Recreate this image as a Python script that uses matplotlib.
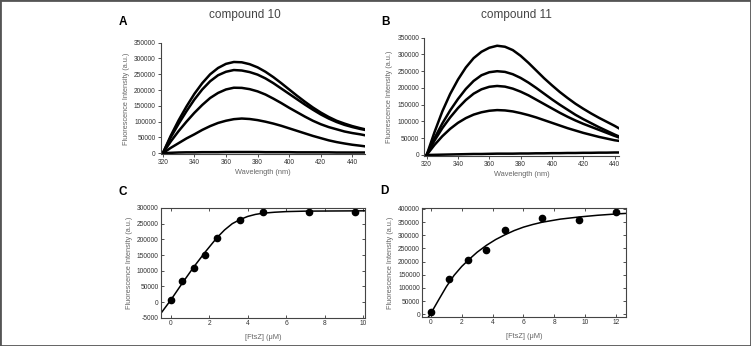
import matplotlib
matplotlib.use('Agg')
import matplotlib.pyplot as plt
from matplotlib.patches import Rectangle
import numpy as np

plt.rcParams['font.family'] = ['Liberation Sans', 'DejaVu Sans']

# panel A - compound 10 emission spectra (read every 5 nm)
wl_a = [320, 325, 330, 335, 340, 345, 350, 355, 360, 365, 370, 375, 380, 385, 390,
        395, 400, 405, 410, 415, 420, 425, 430, 435, 440, 445, 448]
a1 = [0, 55000, 104000, 148000, 188000, 222000, 250000, 270000, 283000, 289000, 288000, 282000, 272000, 258000, 241000,
      222000, 202000, 182000, 163000, 145000, 129000, 115000, 103000, 94000, 86000, 79500, 76000]
a2 = [0, 50000, 93000, 133000, 170000, 202000, 228000, 247000, 258000, 263500, 262000, 257000, 249000, 237000, 222000,
      205000, 188000, 171000, 154000, 138000, 123000, 110000, 99000, 90000, 83000, 77000, 74000]
a3 = [0, 37000, 70000, 100000, 128000, 153000, 175000, 191000, 202000, 207500, 207000, 203000, 196000, 186000, 173000,
      159000, 144000, 130000, 116000, 103000, 92000, 83000, 76000, 69000, 64000, 60000, 57000]
a4 = [0, 17000, 32000, 47000, 60000, 74000, 86000, 96000, 103000, 108000, 110000, 108500, 105000, 100000, 94000,
      87000, 79000, 71000, 63000, 55000, 48000, 41000, 35500, 31000, 27000, 24000, 22000]
a5 = [0, 1500, 2500, 3000, 3000, 3500, 3500, 3500, 4000, 4000, 4000, 4000, 4000, 3500, 3500,
      3500, 3500, 3000, 3000, 3000, 3000, 3000, 2500, 2500, 2500, 2500, 2500]

# panel B - compound 11 emission spectra
wl_b = [320, 325, 330, 335, 340, 345, 350, 355, 360, 365, 370, 375, 380, 385, 390,
        395, 400, 405, 410, 415, 420, 425, 430, 435, 440, 443]
b1 = [0, 68000, 130000, 182000, 225000, 261000, 289000, 308000, 320000, 326000, 323000, 313000, 296000, 275000, 252000,
      229000, 208000, 188000, 170000, 153000, 138000, 124000, 111000, 99000, 87000, 79000]
b2 = [0, 50000, 94000, 133000, 167000, 197000, 221000, 238000, 247000, 250000, 248000, 241000, 230000, 216000, 200000,
      183000, 166000, 150000, 135000, 120000, 107000, 95000, 83000, 72000, 61000, 55000]
b3 = [0, 43000, 80000, 112000, 140000, 164000, 183000, 196000, 203500, 206000, 204000, 198000, 189000, 178000, 165000,
      152000, 139000, 126000, 114000, 103000, 93000, 84000, 75000, 66000, 57000, 52000]
b4 = [0, 30000, 56000, 78000, 96000, 110000, 120500, 127500, 132000, 134000, 133000, 130000, 125000, 119000, 112000,
      104000, 96000, 88000, 80000, 73000, 66000, 60000, 54000, 49000, 44000, 42000]
b5 = [0, 500, 1000, 1500, 2000, 2500, 3000, 3000, 3500, 4000, 4000, 4000, 4500, 4500, 5000,
      5000, 5500, 5500, 6000, 6000, 6500, 6500, 7000, 7000, 7500, 7500]

# panel C - titration compound 10
ftsz_c = [0, 0.6, 1.2, 1.8, 2.4, 3.6, 4.8, 7.2, 9.6]
fl_c = [6500, 67000, 110000, 150000, 205000, 261000, 286000, 286000, 286000]
fit_xc = [-0.52, 0, 0.6, 1.2, 1.8, 2.4, 2.8, 3.2, 3.6, 4.0, 4.4, 4.8, 5.4, 6.0, 7.0, 8.5, 10.1]
fit_yc = [-37000, 6000, 60000, 112000, 160000, 205000, 230000, 250000, 263000, 273000, 279500, 283500, 286500,
          288500, 290000, 290500, 291000]

# panel D - titration compound 11
ftsz_d = [0, 1.2, 2.4, 3.6, 4.8, 7.2, 9.6, 12]
fl_d = [10000, 135000, 205000, 246000, 320000, 364000, 357000, 388000]
fit_xd = [-0.15, 0, 0.5, 1.0, 1.5, 2.0, 2.5, 3.0, 3.6, 4.2, 4.8, 5.4, 6.0, 6.6, 7.2, 8.4, 9.6, 10.8, 12.0, 12.6]
fit_yd = [-9000, 4000, 55000, 105000, 148000, 182000, 210000, 236000, 262000, 284000, 302000, 318000, 331000,
          341000, 349500, 361500, 369500, 376000, 381000, 383000]

W, H = 751, 346
fig = plt.figure(figsize=(W / 100, H / 100), dpi=100)
fig.patches.append(Rectangle((0, 0), 1, 1, transform=fig.transFigure, fill=False,
                             edgecolor='#555555', lw=2.0))


def box(l, t, r, b):
    return [l / W, 1 - b / H, (r - l) / W, (b - t) / H]


tick_col = '#333333'
lab_col = '#666666'


def style(ax, full):
    ax.tick_params(labelsize=4.8, colors=tick_col, length=2, width=0.6, pad=1.5)
    for s in ax.spines.values():
        s.set_linewidth(0.8)
        s.set_color('#444444')
    if full:
        ax.tick_params(direction='in', top=True, right=True)
    else:
        ax.spines['top'].set_visible(False)
        ax.spines['right'].set_visible(False)
    ax.set_ylabel('Fluorescence Intensity (a.u.)', fontsize=5.3, color=lab_col, labelpad=3)


# A
axA = fig.add_axes(box(160.7, 42.7, 365, 154.3))
for y in [a1, a2, a3, a4, a5]:
    axA.plot(wl_a, y, color='black', lw=1.8, solid_joinstyle='round')
axA.set_xlim(318.7, 448)
axA.set_ylim(-3200, 350000)
axA.set_xticks([320, 340, 360, 380, 400, 420, 440])
axA.set_yticks(np.arange(0, 350001, 50000))
style(axA, False)
axA.set_xlabel('Wavelength (nm)', fontsize=5.3, color=lab_col, labelpad=2)
axA.spines['left'].set_bounds(0, 350000)

# B
axB = fig.add_axes(box(424.3, 37.7, 619.3, 156))
for y in [b1, b2, b3, b4, b5]:
    axB.plot(wl_b, y, color='black', lw=1.8, solid_joinstyle='round')
axB.set_xlim(318.5, 443)
axB.set_ylim(-3000, 350000)
axB.set_xticks([320, 340, 360, 380, 400, 420, 440])
axB.set_yticks(np.arange(0, 350001, 50000))
style(axB, False)
axB.set_xlabel('Wavelength (nm)', fontsize=5.3, color=lab_col, labelpad=2)

# C
axC = fig.add_axes(box(160.7, 208, 365, 317.7))
axC.plot(fit_xc, fit_yc, color='black', lw=1.1)
axC.plot(ftsz_c, fl_c, 'o', color='black', ms=4.5)
axC.set_xlim(-0.52, 10.1)
axC.set_ylim(-50000, 300000)
axC.set_xticks([0, 2, 4, 6, 8, 10])
axC.set_yticks(np.arange(-50000, 300001, 50000))
axC.set_yticklabels(['-5000', '0', '50000', '100000', '150000', '200000', '250000', '300000'])
style(axC, True)
axC.set_xlabel('[FtsZ] (\u03bcM)', fontsize=5.3, color=lab_col, labelpad=5)

# D
axD = fig.add_axes(box(422, 208.3, 625.7, 316.7))
axD.plot(fit_xd, fit_yd, color='black', lw=1.1)
axD.plot(ftsz_d, fl_d, 'o', color='black', ms=4.5)
axD.set_xlim(-0.58, 12.63)
axD.set_ylim(-9000, 402500)
axD.set_xticks([0, 2, 4, 6, 8, 10, 12])
axD.set_yticks(np.arange(0, 400001, 50000))
style(axD, True)
axD.set_xlabel('[FtsZ] (\u03bcM)', fontsize=5.3, color=lab_col, labelpad=5)

# titles and panel letters
fig.text(245 / W, 1 - 15 / H, 'compound 10', fontsize=8.5, color='#444444', ha='center', va='center')
fig.text(516.7 / W, 1 - 15 / H, 'compound 11', fontsize=8.5, color='#444444', ha='center', va='center')
for lx, ly, s in [(123, 22, 'A'), (385, 22, 'B'), (123, 192, 'C'), (384, 191, 'D')]:
    fig.text(lx / W, 1 - ly / H, s, fontsize=8.5, fontweight='bold', ha='center', va='center')

fig.savefig('out.png', dpi=100)
